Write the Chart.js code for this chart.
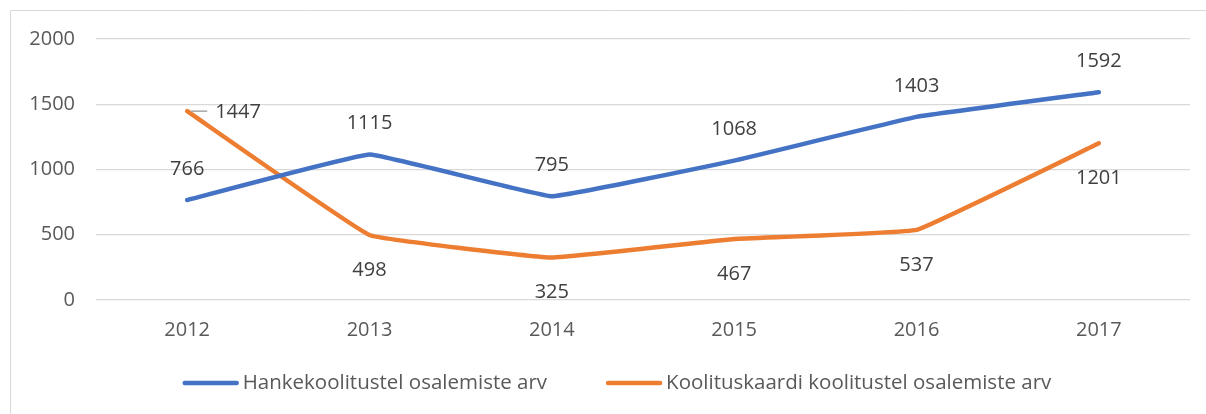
<!DOCTYPE html>
<html>
<head>
<meta charset="utf-8">
<script src="https://cdn.jsdelivr.net/npm/chart.js@4"></script>
<style>
  html, body { margin: 0; padding: 0; background: #fff; }
  #wrap { position: relative; width: 1206px; height: 414px; }
</style>
</head>
<body>
<div id="wrap"><canvas id="chart" width="1206" height="414"></canvas></div>
<script>
const years = ["2012", "2013", "2014", "2015", "2016", "2017"];
const hankeValues = [766, 1115, 795, 1068, 1403, 1592];
const kaardiValues = [1447, 498, 325, 467, 537, 1201];
const yTicks = [0, 500, 1000, 1500, 2000];

const FONT = "'Open Sans', sans-serif";

// frame around the whole chart
const framePlugin = {
  id: "frame",
  beforeDraw(chart) {
    const ctx = chart.ctx;
    ctx.save();
    ctx.strokeStyle = "#d9d9d9";
    ctx.lineWidth = 1;
    ctx.beginPath();
    ctx.moveTo(10.5, 420);
    ctx.lineTo(10.5, 10.5);
    ctx.lineTo(1210, 10.5);
    ctx.stroke();
    ctx.restore();
  }
};

// value labels: blue above the point, orange below (first one to the right with a leader)
const valueLabels = {
  id: "valueLabels",
  afterDatasetsDraw(chart) {
    const ctx = chart.ctx;
    ctx.save();
    ctx.font = "20px " + FONT;
    ctx.fillStyle = "#404040";
    ctx.textAlign = "center";
    ctx.textBaseline = "middle";
    chart.data.datasets.forEach((ds, di) => {
      const meta = chart.getDatasetMeta(di);
      meta.data.forEach((pt, i) => {
        const v = ds.data[i];
        if (di === 0) {
          ctx.fillText(v, pt.x, pt.y - 31);
        } else if (i === 0) {
          ctx.strokeStyle = "#a6a6a6";
          ctx.lineWidth = 1.5;
          ctx.beginPath();
          ctx.moveTo(pt.x + 4, pt.y);
          ctx.lineTo(pt.x + 20, pt.y);
          ctx.stroke();
          ctx.textAlign = "left";
          ctx.fillText(v, pt.x + 28, pt.y + 1);
          ctx.textAlign = "center";
        } else {
          ctx.fillText(v, pt.x, pt.y + 35);
        }
      });
    });
    ctx.restore();
  }
};

// legend drawn below the axis, line sample + text
const bottomLegend = {
  id: "bottomLegend",
  afterDraw(chart) {
    const ctx = chart.ctx;
    ctx.save();
    ctx.font = "20.5px " + FONT;
    ctx.textBaseline = "middle";
    ctx.textAlign = "left";
    const y = 383;
    const items = chart.data.datasets.map(ds => ({
      label: ds.label, color: ds.borderColor, w: 56 + 4 + ctx.measureText(ds.label).width
    }));
    const gap = 59;
    const total = items.reduce((s, it) => s + it.w, 0) + gap * (items.length - 1);
    let x = 617 - total / 2;
    items.forEach(it => {
      ctx.strokeStyle = it.color;
      ctx.lineWidth = 4.5;
      ctx.lineCap = "round";
      ctx.beginPath();
      ctx.moveTo(x + 2, y);
      ctx.lineTo(x + 54, y);
      ctx.stroke();
      ctx.fillStyle = "#595959";
      ctx.fillText(it.label, x + 60, y);
      x += it.w + gap;
    });
    ctx.restore();
  }
};

new Chart(document.getElementById("chart"), {
  type: "line",
  data: {
    labels: years,
    datasets: [
      {
        label: "Hankekoolitustel osalemiste arv",
        data: hankeValues,
        borderColor: "#4472C4",
        backgroundColor: "#4472C4",
        borderWidth: 4.5,
        pointRadius: 0,
        tension: 0.07,
        borderCapStyle: "round",
        borderJoinStyle: "round"
      },
      {
        label: "Koolituskaardi koolitustel osalemiste arv",
        data: kaardiValues,
        borderColor: "#ED7D31",
        backgroundColor: "#ED7D31",
        borderWidth: 4.5,
        pointRadius: 0,
        tension: 0.07,
        borderCapStyle: "round",
        borderJoinStyle: "round"
      }
    ]
  },
  options: {
    responsive: false,
    animation: false,
    layout: { padding: { left: 0, right: 16, top: 39, bottom: 54 } },
    plugins: {
      tooltip: { enabled: false },
      legend: { display: false }
    },
    scales: {
      x: {
        offset: true,
        grid: { display: false, drawTicks: false },
        border: { display: false },
        ticks: {
          color: "#595959",
          padding: 18,
          font: { family: FONT, size: 20 }
        }
      },
      y: {
        min: 0,
        max: 2000,
        afterFit(scale) { scale.width = 96; },
        afterBuildTicks(scale) { scale.ticks = yTicks.map(v => ({ value: v })); },
        grid: { color: "#d9d9d9", lineWidth: 1.3, drawTicks: false },
        border: { display: false },
        ticks: {
          color: "#595959",
          padding: 21,
          callback: v => String(v),
          font: { family: FONT, size: 20 }
        }
      }
    }
  },
  plugins: [framePlugin, valueLabels, bottomLegend]
});
</script>
</body>
</html>
